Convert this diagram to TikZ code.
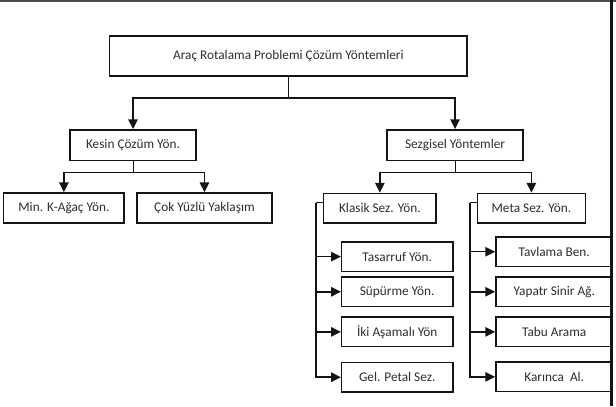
\documentclass[tikz,border=0pt]{standalone}
\usepackage{fontspec}
\setmainfont{Carlito}
\usetikzlibrary{arrows.meta,positioning,calc}
\definecolor{ink}{RGB}{45,45,50}
\definecolor{frame}{RGB}{20,20,20}
\tikzset{
  >={Triangle[length=2.6mm,width=2.5mm]},
  box/.style={draw=frame,line width=1.1pt,minimum width=#1,minimum height=7.9mm,
    inner sep=1pt,align=center,text=ink,font=\fontsize{10}{12}\selectfont},
  box/.default=30mm,
  leaf/.style={box=#1,minimum height=7.8mm,anchor=west},
  flow/.style={->,draw=frame,line width=1.1pt},
  stem/.style={draw=frame,line width=0.8pt},
}

\begin{document}
\begin{tikzpicture}
        \useasboundingbox (0,0) rectangle (16.298,-10.742);
        % top level
        \node[box=94.6mm,minimum height=10.6mm] (rp) at (7.63,-1.48) {Araç Rotalama Problemi Çözüm Yöntemleri};
        \node[box=33.3mm,minimum height=8.1mm] (kc) at (3.52,-3.84) {Kesin Çözüm Yön.};
        \node[box=36mm,minimum height=8.1mm] (sy) at (12.04,-3.84) {Sezgisel Yöntemler};
        \draw[stem] (rp.south) -- ++(0,-0.56) coordinate (rpj);
        \draw[flow] (rpj) -| (kc.north);
        \draw[flow] (rpj) -| (sy.north);
        % second level
        \node[box=31.9mm] (mk) at (1.69,-5.50) {Min. K-Ağaç Yön.};
        \node[box=35.7mm] (cy) at (5.41,-5.50) {Çok Yüzlü Yaklaşım};
        \node[box=29.8mm] (ks) at (10.05,-5.51) {Klasik Sez. Yön.};
        \node[box=28.6mm] (ms) at (14.06,-5.51) {Meta Sez. Yön.};
        \draw[stem] (kc.south) -- ++(0,-0.30) coordinate (kcj);
        \draw[flow] (kcj) -| (mk.north);
        \draw[flow] (kcj) -| (cy.north);
        \draw[stem] (sy.south) -- ++(0,-0.30) coordinate (syj);
        \draw[flow] (syj) -| (ks.north);
        \draw[flow] (syj) -| (ms.north);
        % klasik
        \node[leaf=29.4mm] (ty) at (9.02,-6.79) {Tasarruf Yön.};
        \node[leaf=29.4mm] (su) at (9.02,-7.72) {Süpürme Yön.};
        \node[leaf=29.4mm] (ia) at (9.02,-8.78) {İki Aşamalı Yön};
        \node[leaf=29.4mm] (gp) at (9.02,-9.98) {Gel. Petal Sez.};
        \coordinate (ksj) at ($(ks.north west)+(-0.18,-0.27)$);
        \draw[stem] ($(ks.north west)+(0,-0.27)$) -- (ksj);
        \foreach \n in {ty,su,ia,gp}
          \draw[flow] (ksj) |- (\n.west);
        % meta
        \node[leaf=30.9mm] (tb) at (13.10,-6.66) {Tavlama Ben.};
        \node[leaf=30.9mm] (ya) at (13.10,-7.72) {Yapatr Sinir Ağ.};
        \node[leaf=30.9mm] (ta) at (13.10,-8.78) {Tabu Arama};
        \node[leaf=30.9mm] (ka) at (13.10,-9.97) {Karınca\ \ Al.};
        \coordinate (msj) at ($(ms.north west)+(-0.18,-0.27)$);
        \draw[stem] ($(ms.north west)+(0,-0.27)$) -- (msj);
        \foreach \n in {tb,ya,ta,ka}
          \draw[flow] (msj) |- (\n.west);
        % frame
        \draw[black!70,line width=1.2pt] (0,-0.03) -- (16.298,-0.03);
        \draw[frame,line width=1.6pt] (16.18,0) -- (16.18,-10.742);
      \end{tikzpicture}
\end{document}
